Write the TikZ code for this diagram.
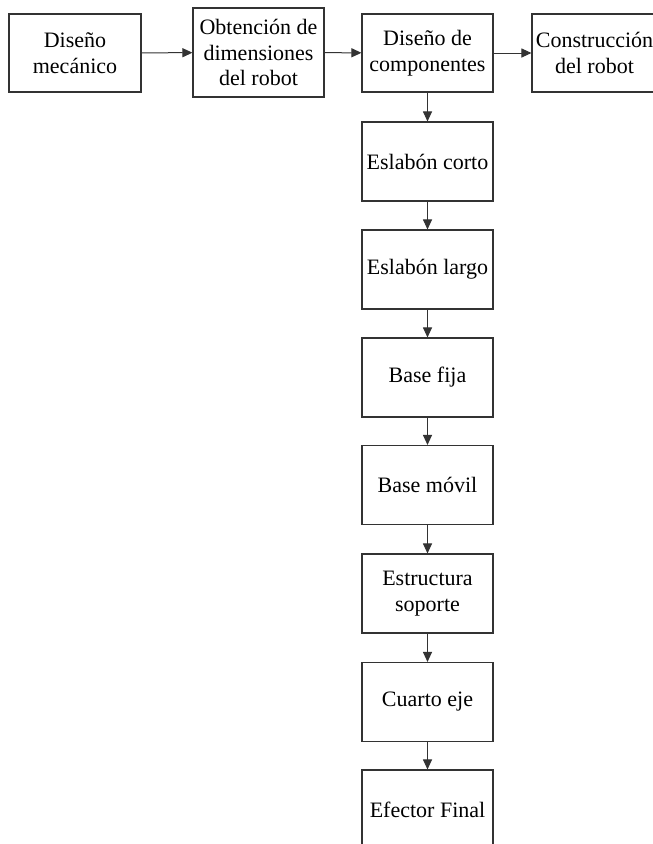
\documentclass[tikz,border=0pt]{standalone}
\usepackage{fontspec}
\setmainfont{Liberation Serif}
\usetikzlibrary{arrows.meta}
\begin{document}
\begin{tikzpicture}[x=1pt,y=-1pt,
  box/.style={draw=black!80, line width=1.1pt, fill=white, align=center, inner sep=0pt,
    font=\fontsize{22}{25.5}\selectfont, text=black},
  conn/.style={draw=black!80, line width=1pt, -{Triangle[length=10pt,width=9pt]}}]
\useasboundingbox[fill=white] (0,0) rectangle (653,844);
\node[box, minimum width=132pt, minimum height=78pt] (dm) at (75,53) {Diseño\\mecánico};
\node[box, minimum width=131pt, minimum height=89pt] (od) at (258.5,52.5) {Obtención de\\dimensiones\\del robot};
\node[box, minimum width=131pt, minimum height=78pt] (dc) at (427.5,53) {Diseño de\\componentes};
\node[box, minimum width=125pt, minimum height=78pt] (cr) at (594.5,53) {Construcción\\del robot};
\foreach \n/\t/\y in {ec/Eslabón corto/161.5, el/Eslabón largo/269.5, bf/Base fija/377.5,
  bm/Base móvil/485, es/Estructura\\soporte/593.5, ce/Cuarto eje/702, ef/Efector Final/809.5}{
  \node[box, minimum width=131pt, minimum height=79pt] (\n) at (427.5,\y) {\t};
}
\draw[conn] (dm) -- (od);
\draw[conn] (od) -- (dc);
\draw[conn] (dc) -- (cr);
\draw[conn] (dc) -- (ec);
\draw[conn] (ec) -- (el);
\draw[conn] (el) -- (bf);
\draw[conn] (bf) -- (bm);
\draw[conn] (bm) -- (es);
\draw[conn] (es) -- (ce);
\draw[conn] (ce) -- (ef);
\end{tikzpicture}
\end{document}
